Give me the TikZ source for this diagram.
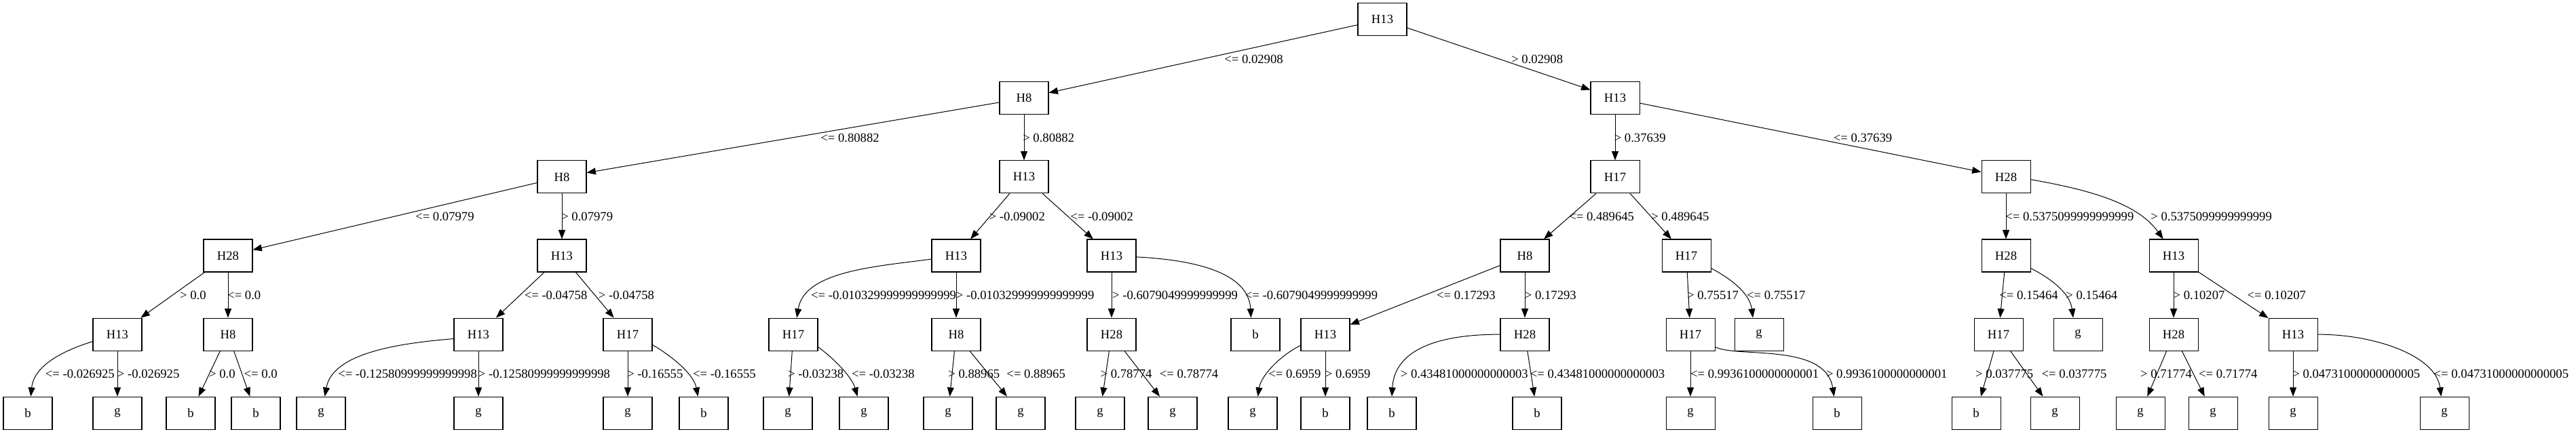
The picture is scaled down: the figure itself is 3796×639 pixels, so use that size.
\documentclass[tikz,border=0pt]{standalone}
\usepackage{fontspec}
\setmainfont{Liberation Serif}
\usetikzlibrary{arrows.meta}
\begin{document}
\begin{tikzpicture}[x=0.75pt,y=-0.75pt,
  box/.style={draw,line width=0.8pt,minimum width=54pt,minimum height=36pt,inner sep=0pt,font=\fontsize{14}{16}\selectfont},
  conn/.style={line width=0.75pt,-{Triangle[length=10pt,width=7.5pt]}},
  lbl/.style={anchor=west,inner sep=0pt,font=\fontsize{14}{16}\selectfont}]
\useasboundingbox (0,0) rectangle (3796,639);
% level 0-2
\node[box] (r) at (2037,28.7) {H13};
\node[box] (a) at (1509,144.8) {H8};
\node[box] (b) at (2380,144.8) {H13};
\node[box] (a1) at (828,260.9) {H8};
\node[box] (a2) at (1509,260.9) {H13};
\node[box] (c1) at (2380,260.9) {H17};
\node[box] (c2) at (2956,260.9) {H28};
% level 3
\node[box] (d1) at (336,377) {H28};
\node[box] (d2) at (828,377) {H13};
\node[box] (d3) at (1409,377) {H13};
\node[box] (d4) at (1638,377) {H13};
\node[box] (d5) at (2247,377) {H8};
\node[box] (d6) at (2485,377) {H17};
\node[box] (d7) at (2956,377) {H28};
\node[box] (d8) at (3203,377) {H13};
% level 4
\node[box] (e1) at (173,493.1) {H13};
\node[box] (e2) at (336,493.1) {H8};
\node[box] (e3) at (705,493.1) {H13};
\node[box] (e4) at (925,493.1) {H17};
\node[box] (e5) at (1169,493.1) {H17};
\node[box] (e6) at (1409,493.1) {H8};
\node[box] (e7) at (1638,493.1) {H28};
\node[box] (e8) at (1850,493.1) {b};
\node[box] (e9) at (1953,493.1) {H13};
\node[box] (e10) at (2247,493.1) {H28};
\node[box] (e11) at (2491,493.1) {H17};
\node[box] (e12) at (2592,493.1) {g};
\node[box] (e13) at (2945,493.1) {H17};
\node[box] (e14) at (3062,493.1) {g};
\node[box] (e15) at (3203,493.1) {H28};
\node[box] (e16) at (3379,493.1) {H13};
% level 5
\node[box] (f1) at (41,609.2) {b};
\node[box] (f2) at (173,609.2) {g};
\node[box] (f3) at (281,609.2) {b};
\node[box] (f4) at (377,609.2) {b};
\node[box] (f5) at (473,609.2) {g};
\node[box] (f6) at (705,609.2) {g};
\node[box] (f7) at (925,609.2) {g};
\node[box] (f8) at (1037,609.2) {b};
\node[box] (f9) at (1161,609.2) {g};
\node[box] (f10) at (1273,609.2) {g};
\node[box] (f11) at (1397,609.2) {g};
\node[box] (f12) at (1504,609.2) {g};
\node[box] (f13) at (1621,609.2) {g};
\node[box] (f14) at (1728,609.2) {g};
\node[box] (f15) at (1846,609.2) {g};
\node[box] (f16) at (1953,609.2) {b};
\node[box] (f17) at (2051,609.2) {b};
\node[box] (f18) at (2265,609.2) {b};
\node[box] (f19) at (2491,609.2) {g};
\node[box] (f20) at (2707,609.2) {b};
\node[box] (f21) at (2912,609.2) {b};
\node[box] (f22) at (3028,609.2) {g};
\node[box] (f23) at (3154,609.2) {g};
\node[box] (f24) at (3261,609.2) {g};
\node[box] (f25) at (3379,609.2) {g};
\node[box] (f26) at (3602,609.2) {g};
% edges level 0-1
\draw[conn] (r) -- (a);
\draw[conn] (r) -- (b);
\node[lbl] at (1804,87) {<= 0.02908};
\node[lbl] at (2227,87) {> 0.02908};
% level 1-2
\draw[conn] (a) -- (a1);
\draw[conn] (a) -- (a2);
\draw[conn] (b) -- (c1);
\draw[conn] (b) -- (c2);
\node[lbl] at (1209,203) {<= 0.80882};
\node[lbl] at (1507,203) {> 0.80882};
\node[lbl] at (2378.5,203) {> 0.37639};
\node[lbl] at (2701.5,203) {<= 0.37639};
% level 2-3
\draw[conn] (a1) -- (d1);
\draw[conn] (a1) -- (d2);
\draw[conn] (a2) -- (d3);
\draw[conn] (a2) -- (d4);
\draw[conn] (c1) -- (d5);
\draw[conn] (c1) -- (d6);
\draw[conn] (c2) -- (d7);
\draw[conn] (c2.-6) .. controls (3080,280) and (3150,300) .. (d8.122);
\node[lbl] at (612,319) {<= 0.07979};
\node[lbl] at (827,319) {> 0.07979};
\node[lbl] at (1457.5,319) {> -0.09002};
\node[lbl] at (1577,319) {<= -0.09002};
\node[lbl] at (2312,319) {<= 0.489645};
\node[lbl] at (2433,319) {> 0.489645};
\node[lbl] at (2955,319) {<= 0.5375099999999999};
\node[lbl] at (3169,319) {> 0.5375099999999999};
% level 3-4
\draw[conn] (d1) -- (e1);
\draw[conn] (d1) -- (e2);
\draw[conn] (d2) -- (e3);
\draw[conn] (d2) -- (e4);
\draw[conn] (d3.188) .. controls (1290,393) and (1185,400) .. (e5.78);
\draw[conn] (d3) -- (e6);
\draw[conn] (d4) -- (e7);
\draw[conn] (d4.-3) .. controls (1755,383) and (1840,400) .. (e8.105);
\draw[conn] (d5) -- (e9);
\draw[conn] (d5) -- (e10);
\draw[conn] (d6) -- (e11);
\draw[conn] (d6.-27) .. controls (2545,408) and (2578,430) .. (e12.110);
\draw[conn] (d7) -- (e13);
\draw[conn] (d7.-27) .. controls (3017,408) and (3050,430) .. (e14.106);
\draw[conn] (d8) -- (e15);
\draw[conn] (d8) -- (e16);
\node[lbl] at (264.8,435) {> 0.0};
\node[lbl] at (335,435) {<= 0.0};
\node[lbl] at (772.5,435) {<= -0.04758};
\node[lbl] at (881.6,435) {> -0.04758};
\node[lbl] at (1194.8,435) {<= -0.010329999999999999};
\node[lbl] at (1408.7,435) {> -0.010329999999999999};
\node[lbl] at (1638.9,435) {> -0.6079049999999999};
\node[lbl] at (1834.6,435) {<= -0.6079049999999999};
\node[lbl] at (2116.9,435) {<= 0.17293};
\node[lbl] at (2246.6,435) {> 0.17293};
\node[lbl] at (2485.9,435) {> 0.75517};
\node[lbl] at (2573.8,435) {<= 0.75517};
\node[lbl] at (2946,435) {<= 0.15464};
\node[lbl] at (3044.1,435) {> 0.15464};
\node[lbl] at (3202.3,435) {> 0.10207};
\node[lbl] at (3311.3,435) {<= 0.10207};
% level 4-5
\draw[conn] (e1.196) .. controls (90,518) and (50,540) .. (f1.80);
\draw[conn] (e1) -- (f2);
\draw[conn] (e2) -- (f3);
\draw[conn] (e2) -- (f4);
\draw[conn] (e3.190) .. controls (590,506) and (490,520) .. (f5.77);
\draw[conn] (e3) -- (f6);
\draw[conn] (e4) -- (f7);
\draw[conn] (e4.-23) .. controls (985,522) and (1022,550) .. (f8.109);
\draw[conn] (e5) -- (f9);
\draw[conn] (e5.-27) .. controls (1228,528) and (1255,555) .. (f10.111);
\draw[conn] (e6) -- (f11);
\draw[conn] (e6) -- (f12);
\draw[conn] (e7) -- (f13);
\draw[conn] (e7) -- (f14);
\draw[conn] (e9.204) .. controls (1885,525) and (1858,555) .. (f15.73);
\draw[conn] (e9) -- (f16);
\draw[conn] (e10.west) .. controls (2120,493) and (2055,515) .. (f17.north);
\draw[conn] (e10) -- (f18);
\draw[conn] (e11) -- (f19);
\draw[conn] (e11.-27) .. controls (2560,528) and (2690,505) .. (f20.100);
\draw[conn] (e13) -- (f21);
\draw[conn] (e13) -- (f22);
\draw[conn] (e15) -- (f23);
\draw[conn] (e15) -- (f24);
\draw[conn] (e16) -- (f25);
\draw[conn] (e16.east) .. controls (3500,493) and (3590,525) .. (f26.101);
\node[lbl] at (66.6,551) {<= -0.026925};
\node[lbl] at (172.7,551) {> -0.026925};
\node[lbl] at (307.8,551) {> 0.0};
\node[lbl] at (359.3,551) {<= 0.0};
\node[lbl] at (498,551) {<= -0.12580999999999998};
\node[lbl] at (704.7,551) {> -0.12580999999999998};
\node[lbl] at (924,551) {> -0.16555};
\node[lbl] at (1020.9,551) {<= -0.16555};
\node[lbl] at (1160.9,551) {> -0.03238};
\node[lbl] at (1254.8,551) {<= -0.03238};
\node[lbl] at (1397.1,551) {> 0.88965};
\node[lbl] at (1483.2,551) {<= 0.88965};
\node[lbl] at (1621.3,551) {> 0.78774};
\node[lbl] at (1708.6,551) {<= 0.78774};
\node[lbl] at (1869,551) {<= 0.6959};
\node[lbl] at (1952.7,551) {> 0.6959};
\node[lbl] at (2063.6,551) {> 0.43481000000000003};
\node[lbl] at (2254.5,551) {<= 0.43481000000000003};
\node[lbl] at (2490.8,551) {<= 0.9936100000000001};
\node[lbl] at (2690.7,551) {> 0.9936100000000001};
\node[lbl] at (2910.8,551) {> 0.037775};
\node[lbl] at (3008.4,551) {<= 0.037775};
\node[lbl] at (3153.8,551) {> 0.71774};
\node[lbl] at (3239.8,551) {<= 0.71774};
\node[lbl] at (3378,551) {> 0.04731000000000005};
\node[lbl] at (3586.4,551) {<= 0.04731000000000005};
\end{tikzpicture}
\end{document}
